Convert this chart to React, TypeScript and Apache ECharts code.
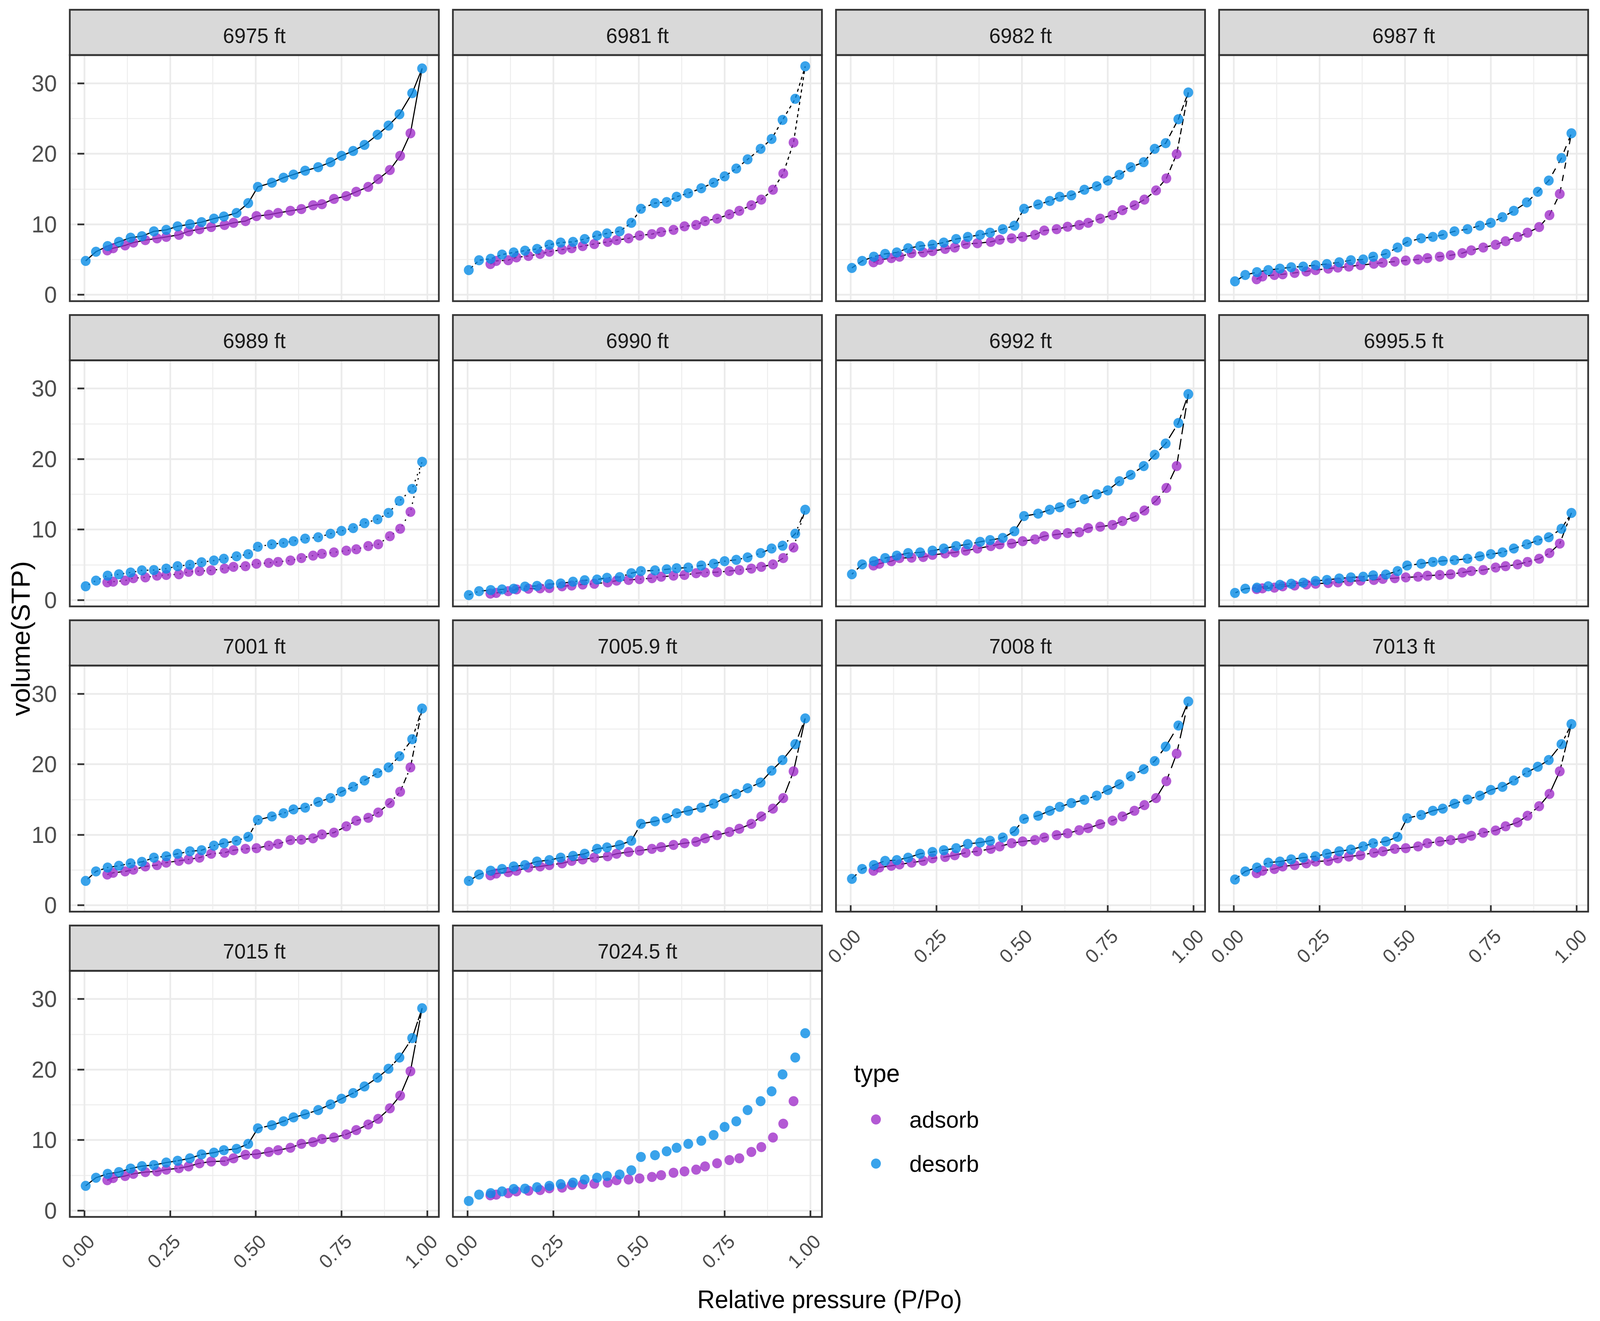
import React, { useEffect, useRef } from 'react';
import * as echarts from 'echarts';

// ---------------- data ----------------
const DEPTHS = ['6975 ft', '6981 ft', '6982 ft', '6987 ft', '6989 ft', '6990 ft', '6992 ft', '6995.5 ft',
  '7001 ft', '7005.9 ft', '7008 ft', '7013 ft', '7015 ft', '7024.5 ft'];

// relative pressure (P/Po) of the adsorption and desorption points
const P_ADS = [0.067, 0.084, 0.119, 0.143, 0.178, 0.212, 0.239, 0.276, 0.304, 0.336, 0.370, 0.409, 0.435, 0.470,
  0.502, 0.538, 0.565, 0.601, 0.633, 0.667, 0.693, 0.728, 0.764, 0.793, 0.828, 0.857, 0.891, 0.921, 0.951];
const P_DES = [0.004, 0.034, 0.068, 0.101, 0.135, 0.168, 0.203, 0.239, 0.272, 0.308, 0.342, 0.378, 0.407, 0.444,
  0.478, 0.506, 0.547, 0.581, 0.610, 0.644, 0.682, 0.718, 0.750, 0.784, 0.817, 0.855, 0.887, 0.919, 0.956, 0.985];

const ADS_6975 = [6.3, 6.6, 7.0, 7.4, 7.75, 8.0, 8.2, 8.5, 9.0, 9.3, 9.6, 9.9, 10.2, 10.45, 11.15, 11.35, 11.6, 11.9, 12.15, 12.7, 12.85, 13.6, 14.0, 14.6, 15.3, 16.4, 17.7, 19.7, 22.9];
const DES_6975 = [4.8, 6.1, 6.9, 7.5, 8.1, 8.3, 9.0, 9.2, 9.7, 10.0, 10.3, 10.8, 11.1, 11.6, 13.0, 15.3, 15.9, 16.6, 17.05, 17.6, 18.1, 18.8, 19.7, 20.4, 21.25, 22.7, 24.0, 25.6, 28.6, 32.1];
const ADS_6981 = [4.35, 4.8, 4.9, 5.3, 5.5, 5.8, 6.1, 6.4, 6.6, 6.9, 7.2, 7.5, 7.75, 8.0, 8.4, 8.6, 8.9, 9.2, 9.7, 9.9, 10.45, 10.8, 11.4, 11.9, 12.7, 13.5, 14.9, 17.2, 21.6];
const DES_6981 = [3.5, 4.9, 5.1, 5.7, 6.0, 6.25, 6.5, 7.1, 7.4, 7.5, 7.9, 8.4, 8.7, 9.0, 10.2, 12.2, 13.0, 13.15, 13.9, 14.4, 15.1, 15.9, 16.8, 17.9, 19.2, 20.7, 22.1, 24.8, 27.8, 32.4];
const ADS_6982 = [4.6, 4.95, 5.2, 5.4, 5.9, 6.0, 6.2, 6.5, 6.7, 7.2, 7.3, 7.5, 7.8, 8.0, 8.2, 8.5, 9.1, 9.3, 9.65, 9.9, 10.2, 10.8, 11.3, 12.0, 12.7, 13.5, 14.8, 16.5, 19.95];
const DES_6982 = [3.8, 4.8, 5.4, 5.8, 6.0, 6.6, 6.9, 7.1, 7.4, 7.9, 8.2, 8.5, 8.8, 9.3, 9.8, 12.2, 12.8, 13.3, 13.9, 14.1, 14.9, 15.4, 16.2, 17.0, 18.1, 18.8, 20.7, 21.5, 24.9, 28.7];
const ADS_6987 = [2.2, 2.6, 2.8, 2.9, 3.1, 3.3, 3.5, 3.7, 3.85, 4.0, 4.2, 4.4, 4.55, 4.7, 4.85, 5.0, 5.2, 5.4, 5.6, 5.9, 6.3, 6.7, 7.1, 7.6, 8.2, 8.8, 9.6, 11.3, 14.3];
const DES_6987 = [1.9, 2.8, 3.2, 3.5, 3.7, 3.9, 4.0, 4.2, 4.35, 4.6, 4.9, 5.0, 5.4, 5.8, 6.7, 7.5, 8.0, 8.2, 8.5, 9.0, 9.3, 9.8, 10.2, 11.0, 11.9, 13.1, 14.6, 16.2, 19.4, 22.9];
const ADS_6989 = [2.5, 2.6, 2.75, 3.1, 3.2, 3.45, 3.55, 3.65, 4.0, 4.1, 4.2, 4.45, 4.7, 4.8, 5.15, 5.25, 5.4, 5.6, 5.95, 6.3, 6.55, 6.75, 7.0, 7.2, 7.65, 7.9, 9.05, 10.1, 12.5];
const DES_6989 = [1.95, 2.75, 3.45, 3.65, 3.9, 4.2, 4.25, 4.45, 4.8, 5.0, 5.35, 5.6, 5.85, 6.2, 6.5, 7.55, 7.9, 8.1, 8.35, 8.7, 8.9, 9.4, 9.8, 10.2, 10.9, 11.45, 12.35, 14.05, 15.75, 19.6];
const ADS_6990 = [0.9, 1.0, 1.25, 1.5, 1.6, 1.65, 1.7, 1.95, 2.05, 2.2, 2.3, 2.5, 2.75, 2.85, 2.95, 3.1, 3.3, 3.45, 3.55, 3.8, 3.9, 3.95, 4.1, 4.25, 4.45, 4.7, 5.05, 5.95, 7.45];
const DES_6990 = [0.7, 1.25, 1.4, 1.5, 1.6, 1.9, 2.0, 2.25, 2.35, 2.6, 2.8, 2.9, 3.15, 3.25, 3.8, 4.1, 4.2, 4.35, 4.5, 4.6, 4.9, 5.15, 5.5, 5.7, 6.05, 6.65, 7.3, 7.7, 9.4, 12.8];
const ADS_6992 = [4.9, 5.15, 5.5, 5.95, 6.0, 6.1, 6.4, 6.6, 6.75, 7.0, 7.3, 7.65, 7.9, 8.0, 8.35, 8.6, 9.05, 9.3, 9.5, 9.6, 10.2, 10.4, 10.65, 11.2, 11.8, 12.7, 14.1, 15.9, 19.0];
const DES_6992 = [3.65, 5.05, 5.5, 5.95, 6.3, 6.65, 6.75, 7.0, 7.3, 7.65, 7.9, 8.25, 8.5, 8.8, 9.75, 11.9, 12.25, 12.8, 13.15, 13.7, 14.3, 15.0, 15.55, 16.85, 17.75, 19.0, 20.6, 22.2, 25.1, 29.2];
const ADS_69955 = [1.55, 1.65, 1.75, 1.95, 2.05, 2.2, 2.3, 2.4, 2.5, 2.65, 2.75, 2.85, 3.0, 3.1, 3.2, 3.3, 3.45, 3.55, 3.65, 3.9, 4.1, 4.25, 4.6, 4.8, 5.05, 5.4, 5.85, 6.65, 8.0];
const DES_69955 = [1.0, 1.6, 1.75, 1.95, 2.15, 2.3, 2.45, 2.7, 2.85, 3.05, 3.2, 3.3, 3.5, 3.6, 4.1, 4.9, 5.15, 5.4, 5.55, 5.65, 5.85, 6.2, 6.5, 6.75, 7.3, 7.9, 8.45, 8.9, 10.1, 12.35];
const ADS_7001 = [4.35, 4.6, 4.8, 5.05, 5.5, 5.7, 6.05, 6.3, 6.5, 6.75, 7.3, 7.45, 7.8, 8.0, 8.1, 8.45, 8.7, 9.25, 9.3, 9.5, 10.05, 10.3, 11.2, 12.0, 12.4, 13.15, 14.5, 16.1, 19.55];
const DES_7001 = [3.45, 4.8, 5.35, 5.6, 5.95, 6.15, 6.75, 6.95, 7.3, 7.65, 7.8, 8.45, 8.8, 9.15, 9.7, 12.1, 12.6, 13.05, 13.6, 13.85, 14.65, 15.2, 16.1, 16.8, 17.7, 18.75, 19.55, 21.15, 23.55, 27.9];
const ADS_70059 = [4.25, 4.5, 4.7, 4.9, 5.35, 5.5, 5.7, 5.95, 6.3, 6.5, 6.75, 6.95, 7.3, 7.55, 7.75, 8.0, 8.25, 8.55, 8.8, 9.0, 9.5, 9.95, 10.4, 10.85, 11.55, 12.6, 13.7, 15.2, 19.0];
const DES_70059 = [3.45, 4.35, 4.9, 5.15, 5.5, 5.7, 6.2, 6.4, 6.75, 7.0, 7.3, 8.0, 8.2, 8.55, 9.15, 11.55, 11.9, 12.35, 13.05, 13.4, 13.85, 14.4, 15.2, 15.8, 16.6, 17.4, 19.1, 20.6, 22.85, 26.5];
const ADS_7008 = [4.9, 5.35, 5.6, 5.8, 6.05, 6.3, 6.65, 6.85, 7.1, 7.45, 7.65, 8.0, 8.35, 8.8, 9.05, 9.25, 9.6, 9.95, 10.2, 10.65, 10.95, 11.5, 12.0, 12.6, 13.4, 14.2, 15.2, 17.6, 21.5];
const DES_7008 = [3.75, 5.15, 5.7, 6.3, 6.4, 6.75, 7.3, 7.55, 7.8, 8.1, 8.7, 8.9, 9.15, 9.6, 10.5, 12.25, 12.7, 13.4, 13.95, 14.5, 14.95, 15.55, 16.35, 17.15, 18.3, 19.3, 20.45, 22.5, 25.5, 28.9];
const ADS_7013 = [4.55, 4.9, 5.15, 5.5, 5.7, 5.95, 6.2, 6.3, 6.65, 6.9, 7.1, 7.45, 7.65, 8.0, 8.1, 8.35, 8.8, 9.05, 9.25, 9.5, 9.85, 10.3, 10.6, 11.2, 11.75, 12.7, 14.05, 15.8, 19.0];
const DES_7013 = [3.65, 4.8, 5.35, 6.05, 6.2, 6.5, 6.75, 6.95, 7.3, 7.65, 7.9, 8.35, 8.8, 9.05, 9.7, 12.35, 12.8, 13.4, 13.7, 14.4, 15.0, 15.55, 16.35, 16.8, 17.7, 18.85, 19.65, 20.6, 22.85, 25.7];
const ADS_7015 = [4.3, 4.6, 4.9, 5.2, 5.45, 5.55, 5.8, 6.0, 6.25, 6.7, 6.95, 7.0, 7.4, 7.9, 8.0, 8.3, 8.55, 8.9, 9.45, 9.7, 10.15, 10.35, 10.8, 11.4, 12.2, 13.0, 14.5, 16.3, 19.75];
const DES_7015 = [3.5, 4.65, 5.2, 5.45, 5.95, 6.3, 6.45, 6.8, 7.05, 7.4, 7.95, 8.2, 8.55, 8.75, 9.45, 11.65, 12.1, 12.65, 13.2, 13.65, 14.25, 15.05, 15.85, 16.65, 17.6, 18.85, 20.1, 21.7, 24.45, 28.7];
const ADS_70245 = [2.15, 2.25, 2.45, 2.7, 2.8, 2.9, 3.15, 3.25, 3.6, 3.7, 3.8, 3.95, 4.3, 4.4, 4.55, 4.75, 5.0, 5.35, 5.55, 5.8, 6.25, 6.7, 7.15, 7.4, 8.3, 9.0, 10.35, 12.3, 15.5];
const DES_70245 = [1.35, 2.25, 2.45, 2.7, 3.05, 3.1, 3.3, 3.5, 3.75, 3.95, 4.4, 4.65, 4.9, 5.1, 5.7, 7.6, 7.85, 8.4, 8.9, 9.45, 9.9, 10.7, 11.85, 12.65, 14.25, 15.5, 16.9, 19.3, 21.7, 25.15];

const ADSORB = [ADS_6975, ADS_6981, ADS_6982, ADS_6987, ADS_6989, ADS_6990, ADS_6992, ADS_69955,
  ADS_7001, ADS_70059, ADS_7008, ADS_7013, ADS_7015, ADS_70245];
const DESORB = [DES_6975, DES_6981, DES_6982, DES_6987, DES_6989, DES_6990, DES_6992, DES_69955,
  DES_7001, DES_70059, DES_7008, DES_7013, DES_7015, DES_70245];

const X_TICKS = [0, 0.25, 0.5, 0.75, 1];
const X_MINOR = [0.125, 0.375, 0.625, 0.875];
const Y_TICKS = [0, 10, 20, 30];
const Y_MINOR = [5, 15, 25];

// ---------------- styles / layout ----------------
const W = 4214;
const H = 3382;
const FONT = '"Liberation Sans", Arial, Helvetica, sans-serif';
const PURPLE = '#A030C9';
const BLUE = '#088CE6';
const X_MIN = -0.0423;
const X_MAX = 1.0338;
const Y_MIN = -0.91;
const Y_MAX = 34.0;
const COL_X0 = 183.8;
const COL_PITCH = 1009;
const PANEL_W = 972;
const ROW_Y0 = 141;
const ROW_PITCH = 781.5;
const PANEL_H = 630;
const STRIP_H = 116;
const BORDER = 4.5;
const X_LABEL_PANELS = [10, 11, 12, 13];
const U = 4; // dash unit
const LINE_TYPES: any[] = [
  'solid', [2 * U, 2 * U], [4 * U, 2 * U], [4 * U, 4 * U], [1 * U, 3 * U], [1 * U, 3 * U, 4 * U, 3 * U],
  [7 * U, 3 * U], [2 * U, 2 * U, 6 * U, 2 * U], [1 * U, 2 * U, 2 * U, 2 * U, 3 * U, 2 * U, 4 * U, 2 * U],
  [15 * U, 2 * U, 8 * U, 2 * U], [15 * U, 4 * U, 4 * U, 4 * U, 8 * U, 4 * U, 4 * U, 4 * U],
  [2 * U, 2 * U, 4 * U, 2 * U, 8 * U, 2 * U, 15 * U, 2 * U], [15 * U, 1 * U], null,
];

function buildOption() {
  const grid: any[] = [];
  const xAxis: any[] = [];
  const yAxis: any[] = [];
  const series: any[] = [];
  const graphic: any[] = [];
  const minorX: any[] = [];
  const minorY: any[] = [];

  DEPTHS.forEach((depth, i) => {
    const r = Math.floor(i / 4);
    const c = i % 4;
    const left = COL_X0 + c * COL_PITCH;
    const top = ROW_Y0 + r * ROW_PITCH;
    const showX = X_LABEL_PANELS.indexOf(i) >= 0;
    const showY = c === 0;

    grid.push({ left, top, width: PANEL_W, height: PANEL_H, containLabel: false, outerBoundsMode: 'none', show: false });

    xAxis.push({
      type: 'value', gridIndex: i, min: X_MIN, max: X_MAX, position: 'bottom',
      axisLine: { show: false },
      axisTick: { show: showX, length: 18, customValues: X_TICKS, lineStyle: { color: '#333333', width: BORDER } },
      axisLabel: {
        show: showX, customValues: X_TICKS, rotate: 45, margin: 36, fontSize: 50, color: '#4D4D4D', fontFamily: FONT,
        align: 'right', verticalAlign: 'top',
        formatter: (v: number) => v.toFixed(2),
      },
      splitLine: { show: true, lineStyle: { color: '#EBEBEB', width: 4.5 } },
    });
    minorX.push({
      type: 'value', gridIndex: i, min: X_MIN, max: X_MAX, position: 'top',
      axisLine: { show: false },
      axisTick: { show: false, customValues: X_MINOR },
      axisLabel: { show: false },
      splitLine: { show: true, lineStyle: { color: '#EDEDED', width: 2.5 } },
    });
    yAxis.push({
      type: 'value', gridIndex: i, min: Y_MIN, max: Y_MAX, position: 'left',
      axisLine: { show: false },
      axisTick: { show: showY, length: 18, customValues: Y_TICKS, lineStyle: { color: '#333333', width: BORDER } },
      axisLabel: { show: showY, customValues: Y_TICKS, margin: 34, fontSize: 60, color: '#4D4D4D', fontFamily: FONT },
      splitLine: { show: true, lineStyle: { color: '#EBEBEB', width: 4.5 } },
    });
    minorY.push({
      type: 'value', gridIndex: i, min: Y_MIN, max: Y_MAX, position: 'right',
      axisLine: { show: false },
      axisTick: { show: false, customValues: Y_MINOR },
      axisLabel: { show: false },
      splitLine: { show: true, lineStyle: { color: '#EDEDED', width: 2.5 } },
    });

    const ads = ADSORB[i].map((v, k) => [P_ADS[k], v]);
    const des = DESORB[i].map((v, k) => [P_DES[k], v]);
    const lty = LINE_TYPES[i];
    if (lty) {
      series.push({
        type: 'line', name: 'path' + i, xAxisIndex: i, yAxisIndex: i,
        data: ads.concat(des.slice().reverse()),
        symbol: 'none', showSymbol: false, silent: true, z: 2,
        lineStyle: { color: '#000000', width: 3, type: lty },
        emphasis: { disabled: true },
      });
    }
    series.push({
      type: 'scatter', name: 'adsorb', xAxisIndex: i, yAxisIndex: i, data: ads,
      symbol: 'circle', symbolSize: 26, itemStyle: { color: PURPLE }, z: 3, silent: true,
      emphasis: { disabled: true },
    });
    series.push({
      type: 'scatter', name: 'desorb', xAxisIndex: i, yAxisIndex: i, data: des,
      symbol: 'circle', symbolSize: 26, itemStyle: { color: BLUE }, z: 3, silent: true,
      emphasis: { disabled: true },
    });

    // strip
    graphic.push({
      type: 'rect', silent: true, z: 50,
      shape: { x: left, y: top - STRIP_H, width: PANEL_W, height: STRIP_H },
      style: { fill: '#D9D9D9', stroke: '#333333', lineWidth: BORDER },
    });
    graphic.push({
      type: 'text', silent: true, z: 51, x: left + PANEL_W / 2, y: top - STRIP_H + 66,
      style: {
        text: depth, fontSize: 54, fontFamily: FONT, fill: '#1A1A1A',
        align: 'center', verticalAlign: 'middle', textAlign: 'center', textVerticalAlign: 'middle',
      },
    });
    // panel border
    graphic.push({
      type: 'rect', silent: true, z: 60,
      shape: { x: left, y: top, width: PANEL_W, height: PANEL_H },
      style: { fill: 'none', stroke: '#333333', lineWidth: BORDER },
    });
  });

  // titles
  graphic.push({
    type: 'text', silent: true, z: 51, x: 2185, y: 3327,
    style: {
      text: 'Relative pressure (P/Po)', fontSize: 64, fontFamily: FONT, fill: '#000000',
      align: 'center', verticalAlign: 'middle', textAlign: 'center', textVerticalAlign: 'middle',
    },
  });
  graphic.push({
    type: 'text', silent: true, z: 51, x: 54, y: 1635, rotation: Math.PI / 2,
    style: {
      text: 'volume(STP)', fontSize: 68, fontFamily: FONT, fill: '#000000',
      align: 'center', verticalAlign: 'middle', textAlign: 'center', textVerticalAlign: 'middle',
    },
  });
  graphic.push({
    type: 'text', silent: true, z: 51, x: 2249, y: 2748,
    style: {
      text: 'type', fontSize: 64, fontFamily: FONT, fill: '#000000',
      align: 'left', verticalAlign: 'middle', textAlign: 'left', textVerticalAlign: 'middle',
    },
  });

  return {
    animation: false,
    backgroundColor: '#FFFFFF',
    grid,
    xAxis: xAxis.concat(minorX),
    yAxis: yAxis.concat(minorY),
    series,
    graphic: { elements: graphic },
    legend: {
      data: ['adsorb', 'desorb'], orient: 'vertical', left: 2294, top: 2836, padding: 0,
      itemWidth: 166, itemHeight: 26, itemGap: 53, icon: 'circle', selectedMode: false,
      textStyle: { fontSize: 60, color: '#000000', fontFamily: FONT },
    },
  };
}

export default function App() {
  const ref = useRef<HTMLDivElement>(null);
  // the browser viewport may be narrower than the requested width; squeeze horizontally to fit it
  const vw = typeof window !== 'undefined' ? window.innerWidth : W;
  const sx = vw > 0 && vw < W ? vw / W : 1;
  useEffect(() => {
    if (!ref.current) return;
    const chart = echarts.init(ref.current, null, { renderer: 'svg', width: W, height: H });
    chart.setOption(buildOption() as any);
    return () => chart.dispose();
  }, []);
  return (
    <div
      ref={ref}
      style={{
        position: 'absolute', left: 0, top: 0, width: W, height: H, background: '#FFFFFF',
        transform: `scale(${sx}, 1)`, transformOrigin: '0 0',
      }}
    />
  );
}
